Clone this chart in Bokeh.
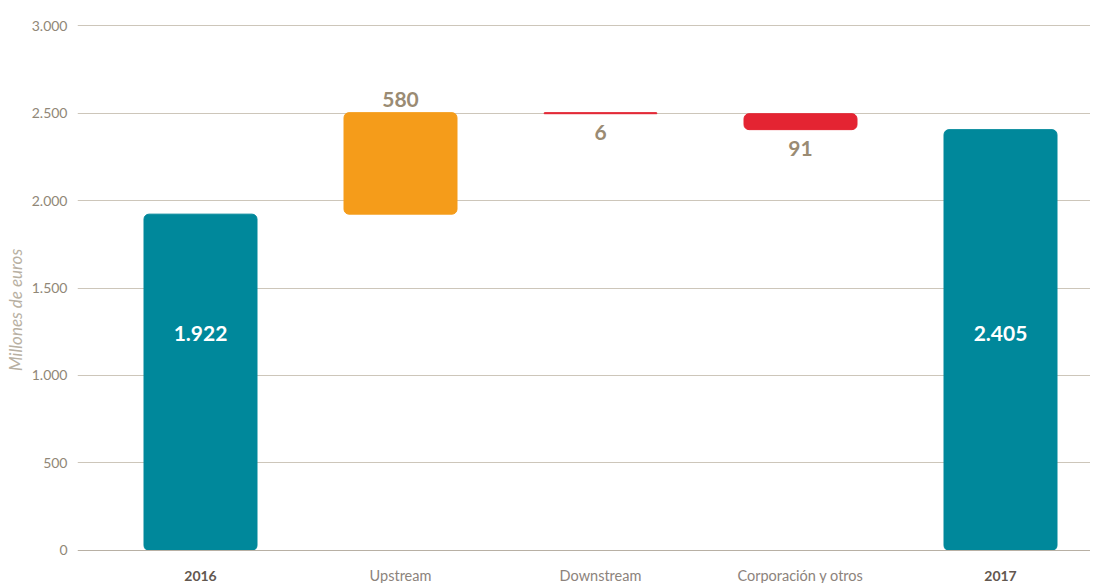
from bokeh.plotting import figure
from bokeh.models import ColumnDataSource, FixedTicker, Range1d, Span
from bokeh.core.properties import value
from bokeh.embed import file_html
from bokeh.resources import INLINE

# ---- data ----
categories = ["2016", "Upstream", "Downstream", "Corporación y otros", "2017"]
values = [1922, 580, -6, -91, 2405]
kinds = ["total", "delta", "delta", "delta", "total"]
y_ticks = [0, 500, 1000, 1500, 2000, 2500, 3000]
y_tick_labels = ["0", "500", "1.000", "1.500", "2.000", "2.500", "3.000"]
axis_title = "Millones de euros"

# ---- styles ----
TEAL = "#00889b"
ORANGE = "#f59c1a"
RED = "#e42432"
FONT = "Lato"


def fmt(v):
    return f"{abs(v):,}".replace(",", ".")


xs, bottoms, tops, colors = [], [], [], []
running = 0
for i, (v, k) in enumerate(zip(values, kinds)):
    xs.append(i)
    if k == "total":
        bottoms.append(0)
        tops.append(v)
        colors.append(TEAL)
        running = v
    else:
        start = running
        running = running + v
        bottoms.append(min(start, running))
        tops.append(max(start, running))
        colors.append(ORANGE if v > 0 else RED)

src = ColumnDataSource(dict(x=xs, bottom=bottoms, top=tops, color=colors))

p = figure(width=1090, height=583,
           x_range=Range1d(-0.615, 4.45), y_range=Range1d(-188.6, 3142.9),
           output_backend="svg", toolbar_location=None,
           x_axis_location=None,
           min_border_left=77, min_border_right=0,
           min_border_top=0, min_border_bottom=0)
p.outline_line_color = None
p.background_fill_color = "white"
p.border_fill_color = "white"

# y axis
ax = p.yaxis[0]
ax.ticker = FixedTicker(ticks=y_ticks)
ax.major_label_overrides = {t: l for t, l in zip(y_ticks, y_tick_labels)}
ax.axis_line_color = None
ax.major_tick_line_color = None
ax.minor_tick_line_color = None
ax.major_tick_out = 0
ax.major_tick_in = 0
ax.major_label_standoff = 10
ax.major_label_text_font = FONT
ax.major_label_text_font_size = "14px"
ax.major_label_text_color = "#908777"
ax.axis_label = axis_title + "\u00a0" * 9
ax.axis_label_standoff = 3
ax.axis_label_text_font = FONT
ax.axis_label_text_font_size = "17px"
ax.axis_label_text_font_style = "italic"
ax.axis_label_text_color = "#b8b0a2"

p.xgrid.visible = False
p.ygrid.ticker = FixedTicker(ticks=y_ticks[1:])
p.ygrid.grid_line_color = "#cdc6ba"
p.ygrid.grid_line_width = 1

p.add_layout(Span(location=0, dimension="width", line_color="#b8b0a4", line_width=1.2))

# bars
p.vbar(x="x", width=0.565, bottom="bottom", top="top", source=src,
       fill_color="color", line_color="color", line_width=1, border_radius=5)

# labels inside total bars
tot_idx = [i for i, k in enumerate(kinds) if k == "total"]
p.text(x=[xs[i] for i in tot_idx], y=[1240] * len(tot_idx),
       text=[fmt(values[i]) for i in tot_idx],
       text_align="center", text_baseline="middle",
       text_font=value(FONT), text_font_style="bold",
       text_font_size="21px", text_color="white")

# labels for deltas
up_idx = [i for i, v in enumerate(values) if kinds[i] == "delta" and v > 0]
dn_idx = [i for i, v in enumerate(values) if kinds[i] == "delta" and v < 0]
p.text(x=[xs[i] for i in up_idx], y=[tops[i] for i in up_idx],
       text=[fmt(values[i]) for i in up_idx],
       text_align="center", text_baseline="bottom", y_offset=-6,
       text_font=value(FONT), text_font_style="bold",
       text_font_size="21px", text_color="#9a8b73")
p.text(x=[xs[i] for i in dn_idx], y=[bottoms[i] for i in dn_idx],
       text=[fmt(values[i]) for i in dn_idx],
       text_align="center", text_baseline="top", y_offset=11,
       text_font=value(FONT), text_font_style="bold",
       text_font_size="21px", text_color="#9a8b73")

# category labels (below the zero line)
tot_x = [xs[i] for i in tot_idx]
oth_idx = [i for i, k in enumerate(kinds) if k != "total"]
p.text(x=tot_x, y=[-143] * len(tot_x), text=[categories[i] for i in tot_idx],
       text_align="center", text_baseline="middle",
       text_font=value(FONT), text_font_style="bold",
       text_font_size="14px", text_color="#62574f")
p.text(x=[xs[i] for i in oth_idx], y=[-143] * len(oth_idx),
       text=[categories[i] for i in oth_idx],
       text_align="center", text_baseline="middle",
       text_font=value(FONT), text_font_size="14.5px", text_color="#8c837c")

open("out.html", "w").write(file_html(p, INLINE))
